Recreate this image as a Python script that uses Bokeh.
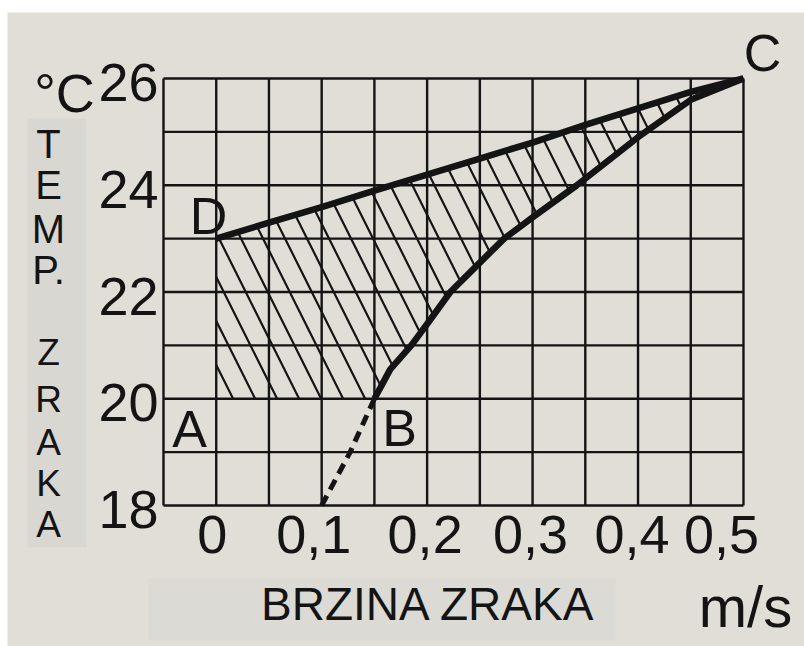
from bokeh.plotting import figure
from bokeh.models import Range1d, Label, BoxAnnotation
from bokeh.core.properties import value
from bokeh.embed import file_html
from bokeh.resources import INLINE

# ---- data ----
x_ticks = [0, 0.1, 0.2, 0.3, 0.4, 0.5]
x_tick_labels = ["0", "0,1", "0,2", "0,3", "0,4", "0,5"]
y_ticks = [18, 20, 22, 24, 26]
y_tick_labels = ["18", "20", "22", "24", "26"]
x_grid = [-0.05, 0, 0.05, 0.1, 0.15, 0.2, 0.25, 0.3, 0.35, 0.4, 0.45, 0.5]
y_grid = [18, 19, 20, 21, 22, 23, 24, 25, 26]
x_min, x_max = -0.05, 0.5
y_min, y_max = 18, 26

# upper boundary D -> C
upper_v = [0, 0.05, 0.1, 0.15, 0.2, 0.25, 0.3, 0.35, 0.4, 0.45, 0.5]
upper_t = [23.0, 23.3, 23.59, 23.9, 24.2, 24.5, 24.8, 25.13, 25.44, 25.75, 26.0]
# lower boundary B -> C (solid)
lower_v = [0.15, 0.165, 0.185, 0.2, 0.222, 0.25, 0.273, 0.3, 0.342, 0.4, 0.45, 0.5]
lower_t = [20.0, 20.55, 21.0, 21.4, 22.0, 22.55, 23.0, 23.4, 24.0, 24.9, 25.6, 26.0]
# extrapolated part below B (dashed)
dash_v = [0.1, 0.127, 0.15]
dash_t = [18.0, 19.0, 20.0]
# bottom-left corner of the comfort zone
zone_v0 = 0
zone_t0 = 20

PAPER = "#e0ded7"
INK = "#141414"
FONT = "Liberation Sans"

W, H = 804, 646
# plot frame covers the whole canvas; chart box sits at px 163..743 x 78..505
PX_PER_X = 1054.5
PX_PER_Y = 53.375
xr = Range1d(x_min - 163 / PX_PER_X, x_min + (W - 163) / PX_PER_X)
yr = Range1d(y_max - (H - 78) / PX_PER_Y, y_max + 78 / PX_PER_Y)

p = figure(width=W, height=H, x_range=xr, y_range=yr,
           output_backend="svg", toolbar_location=None,
           x_axis_location=None, y_axis_location=None,
           min_border=0)
p.grid.visible = False
p.outline_line_color = None
p.background_fill_color = "white"
p.border_fill_color = "white"

def X(px):
    return x_min + (px - 163) / PX_PER_X

def Y(py):
    return y_max - (py - 78) / PX_PER_Y

# photographed paper
p.add_layout(BoxAnnotation(left=X(7), top=Y(12), fill_color=PAPER, fill_alpha=1,
                           line_color=None, level="underlay"))
# grey boxes behind the titles
p.add_layout(BoxAnnotation(left=X(27), right=X(86), top=Y(118), bottom=Y(547),
                           fill_color="#d8d7d1", fill_alpha=1, line_color=None, level="underlay"))
p.add_layout(BoxAnnotation(left=X(148), right=X(615), top=Y(578), bottom=Y(640),
                           fill_color="#dbdad4", fill_alpha=1, line_color=None, level="underlay"))

# grid
p.segment(x0=x_grid, y0=[y_min] * len(x_grid), x1=x_grid, y1=[y_max] * len(x_grid),
          line_color=INK, line_width=2.4)
p.segment(x0=[x_min] * len(y_grid), y0=y_grid, x1=[x_max] * len(y_grid), y1=y_grid,
          line_color=INK, line_width=2.4)

# tick labels
x_label_nudge = [-4, -8, -2, -2, -6, -22]
p.text(x=x_ticks, y=[y_min] * len(x_ticks), text=x_tick_labels,
       text_font=value(FONT), text_font_size=value("54px"), text_color=INK,
       text_align="center", text_baseline="middle", y_offset=29, x_offset=x_label_nudge)
p.text(x=[x_min] * len(y_ticks), y=y_ticks, text=y_tick_labels,
       text_font=value(FONT), text_font_size=value("54px"), text_color=INK,
       text_align="right", text_baseline="middle", x_offset=-5, y_offset=4)

# hatched comfort zone
zone_x = [zone_v0] + upper_v + lower_v[::-1][1:] + [zone_v0]
zone_y = [zone_t0] + upper_t + lower_t[::-1][1:] + [zone_t0]
p.patch(zone_x, zone_y, fill_color=None, line_color=None,
        hatch_pattern="\\", hatch_scale=44, hatch_weight=2.2, hatch_color=INK)

p.line(upper_v, upper_t, line_width=6.5, line_color=INK, line_join="round")
p.line(lower_v, lower_t, line_width=6.5, line_color=INK, line_join="round")
p.line(dash_v, dash_t, line_width=5, line_color=INK, line_dash="11 7")

def lab(px, py, t, size):
    p.add_layout(Label(x=X(px), y=Y(py), text=t, text_font=FONT, text_font_size=size,
                       text_color=INK, text_align="center", text_baseline="middle"))

lab(64, 92, "°C", "54px")
for t, py in zip(["T", "E", "M", "P."], [143, 184, 228, 269]):
    lab(48, py, t, "40px")
for t, py in zip(["Z", "R", "A", "K", "A"], [352, 399, 442, 483, 524]):
    lab(48, py, t, "37px")
lab(428, 603, "BRZINA ZRAKA", "46px")
lab(745, 606, "m/s", "58px")
lab(189, 428, "A", "52px")
lab(399, 427, "B", "52px")
lab(762, 52, "C", "52px")
lab(208, 215, "D", "52px")

open("out.html", "w").write(file_html(p, INLINE))
